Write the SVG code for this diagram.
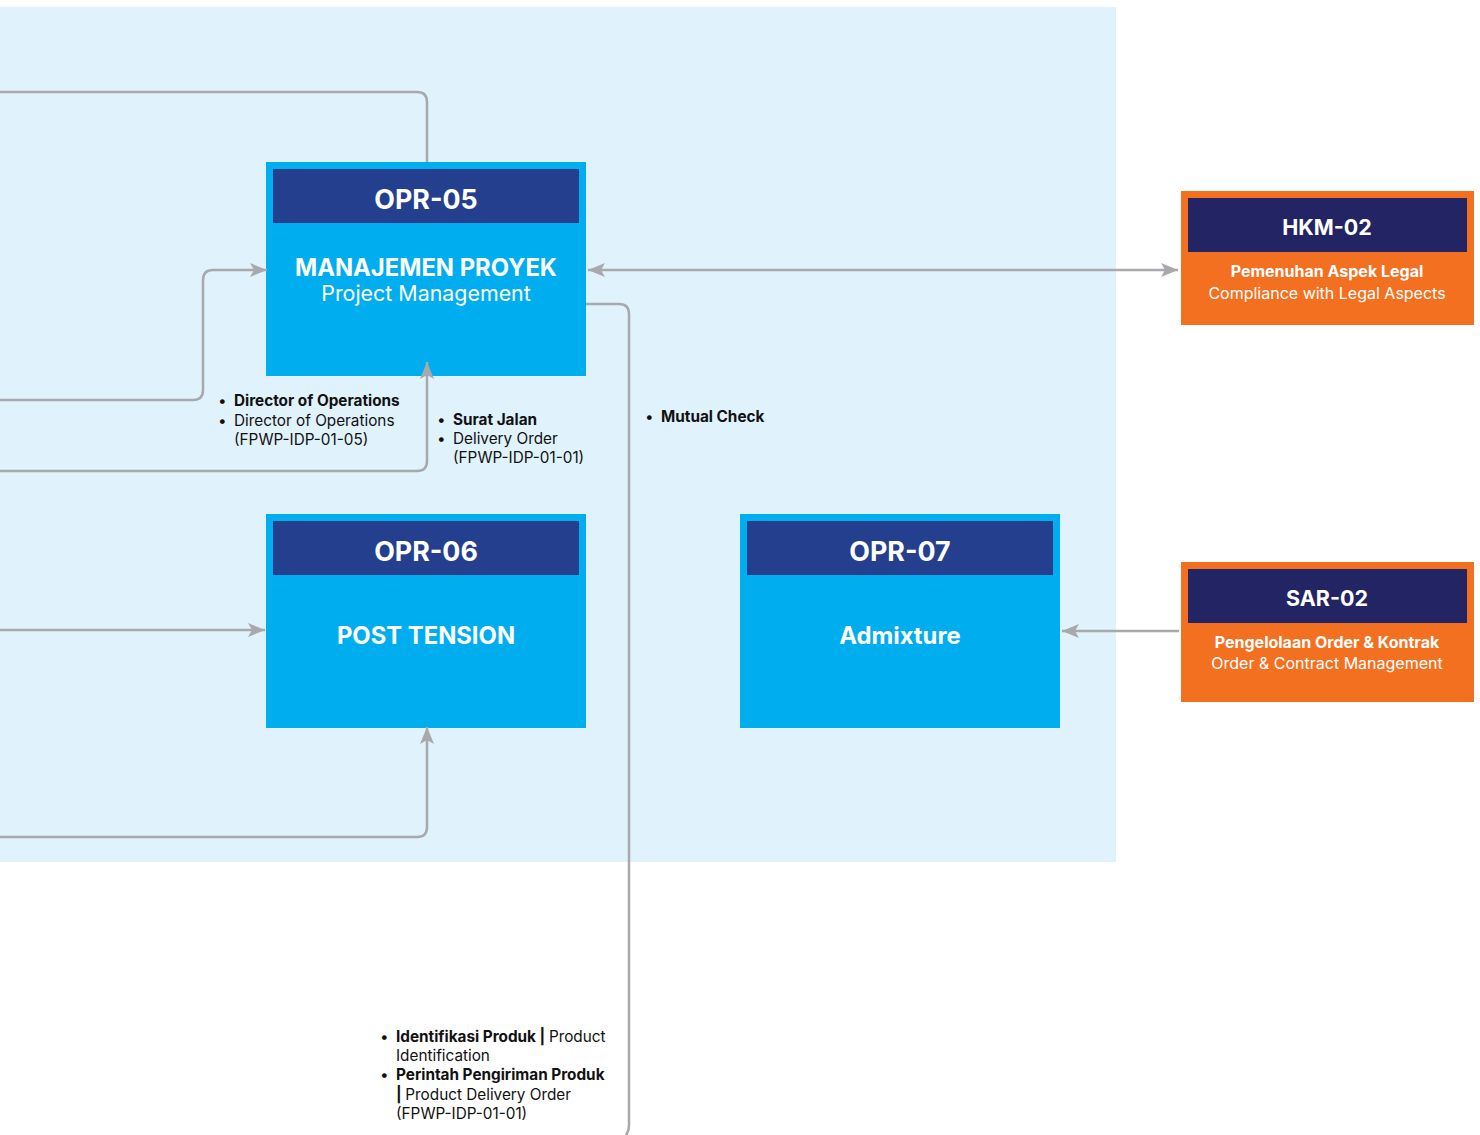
<svg xmlns="http://www.w3.org/2000/svg" width="1480" height="1135" viewBox="0 0 1480 1135">
<style>
.box{fill:#00AEEF}
.hdr{fill:#243F8E}
.obox{fill:#F37021}
.ohdr{fill:#232464}
.t{font-family:Inter,"Liberation Sans",sans-serif;fill:#fff;text-anchor:middle}
.code{font-size:26.8px;font-weight:700}
.ocode{font-size:21.5px;font-weight:700}
.ttl{font-size:23.8px;font-weight:700}
.sub{font-size:21.4px;font-weight:400}
.os{font-size:16px}
.lbl{font-family:Inter,"Liberation Sans",sans-serif;font-size:15.3px;fill:#111}
.b{font-weight:700}
.ln{fill:none;stroke:#A7A9AC;stroke-width:2.5}
</style>
<defs>
<marker id="ah" markerUnits="userSpaceOnUse" markerWidth="18" markerHeight="14" refX="17" refY="7" orient="auto-start-reverse">
<path d="M0,0 L17,7 L0,14 L4,7 Z" fill="#A7A9AC"/>
</marker>
</defs>
<rect x="0" y="7" width="1116" height="855" fill="#E0F2FC"/>
<g id="opr05">
<rect class="box" x="266" y="162" width="320" height="214"/>
<rect class="hdr" x="273" y="169" width="306" height="54"/>
<text class="t code" x="426" y="209">OPR-05</text>
<text class="t ttl" x="426" y="276">MANAJEMEN PROYEK</text>
<text class="t sub" x="426" y="301">Project Management</text>
</g>
<g id="opr06">
<rect class="box" x="266" y="514" width="320" height="214"/>
<rect class="hdr" x="273" y="521" width="306" height="54"/>
<text class="t code" x="426" y="561">OPR-06</text>
<text class="t ttl" x="426" y="644">POST TENSION</text>
</g>
<g id="opr07">
<rect class="box" x="740" y="514" width="320" height="214"/>
<rect class="hdr" x="747" y="521" width="306" height="54"/>
<text class="t code" x="900" y="561">OPR-07</text>
<text class="t ttl" x="900" y="644">Admixture</text>
</g>
<g id="hkm02">
<rect class="obox" x="1181" y="191" width="293" height="134"/>
<rect class="ohdr" x="1188" y="198" width="279" height="54"/>
<text class="t ocode" x="1327" y="235">HKM-02</text>
<text class="t os b" x="1327" y="277">Pemenuhan Aspek Legal</text>
<text class="t os" x="1327" y="299">Compliance with Legal Aspects</text>
</g>
<g id="sar02">
<rect class="obox" x="1181" y="562" width="293" height="140"/>
<rect class="ohdr" x="1188" y="569" width="279" height="54"/>
<text class="t ocode" x="1327" y="606">SAR-02</text>
<text class="t os b" x="1327" y="648">Pengelolaan Order &amp; Kontrak</text>
<text class="t os" x="1327" y="669">Order &amp; Contract Management</text>
</g>
<g id="connectors">
<path class="ln" d="M0,92 H417 Q427,92 427,102 V162"/>
<path class="ln" d="M0,400 H193 Q203,400 203,390 V280 Q203,270 213,270 H267" marker-end="url(#ah)"/>
<path class="ln" d="M0,471 H417 Q427,471 427,461 V362" marker-end="url(#ah)"/>
<path class="ln" d="M588,270 H1178" marker-start="url(#ah)" marker-end="url(#ah)"/>
<path class="ln" d="M586,304 H619 Q629,304 629,314 V1125 Q629,1133 624,1138"/>
<path class="ln" d="M0,630 H265" marker-end="url(#ah)"/>
<path class="ln" d="M0,837 H417 Q427,837 427,827 V727" marker-end="url(#ah)"/>
<path class="ln" d="M1179,631 H1062" marker-end="url(#ah)"/>
</g>
<g id="labels">
<text class="lbl" x="218" y="406">•</text><text class="lbl b" x="234" y="406">Director of Operations</text>
<text class="lbl" x="218" y="426">•</text><text class="lbl" x="234" y="426">Director of Operations</text>
<text class="lbl" x="234" y="445">(FPWP-IDP-01-05)</text>
<text class="lbl" x="437" y="425">•</text><text class="lbl b" x="453" y="425">Surat Jalan</text>
<text class="lbl" x="437" y="444">•</text><text class="lbl" x="453" y="444">Delivery Order</text>
<text class="lbl" x="453" y="463">(FPWP-IDP-01-01)</text>
<text class="lbl" x="645" y="422">•</text><text class="lbl b" x="661" y="422">Mutual Check</text>
<text class="lbl" x="380" y="1042">•</text><text class="lbl" x="396" y="1042"><tspan class="b">Identifikasi Produk | </tspan>Product</text>
<text class="lbl" x="396" y="1061">Identification</text>
<text class="lbl" x="380" y="1080">•</text><text class="lbl b" x="396" y="1080">Perintah Pengiriman Produk</text>
<text class="lbl" x="396" y="1100"><tspan class="b">| </tspan>Product Delivery Order</text>
<text class="lbl" x="396" y="1119">(FPWP-IDP-01-01)</text>
</g>
</svg>
